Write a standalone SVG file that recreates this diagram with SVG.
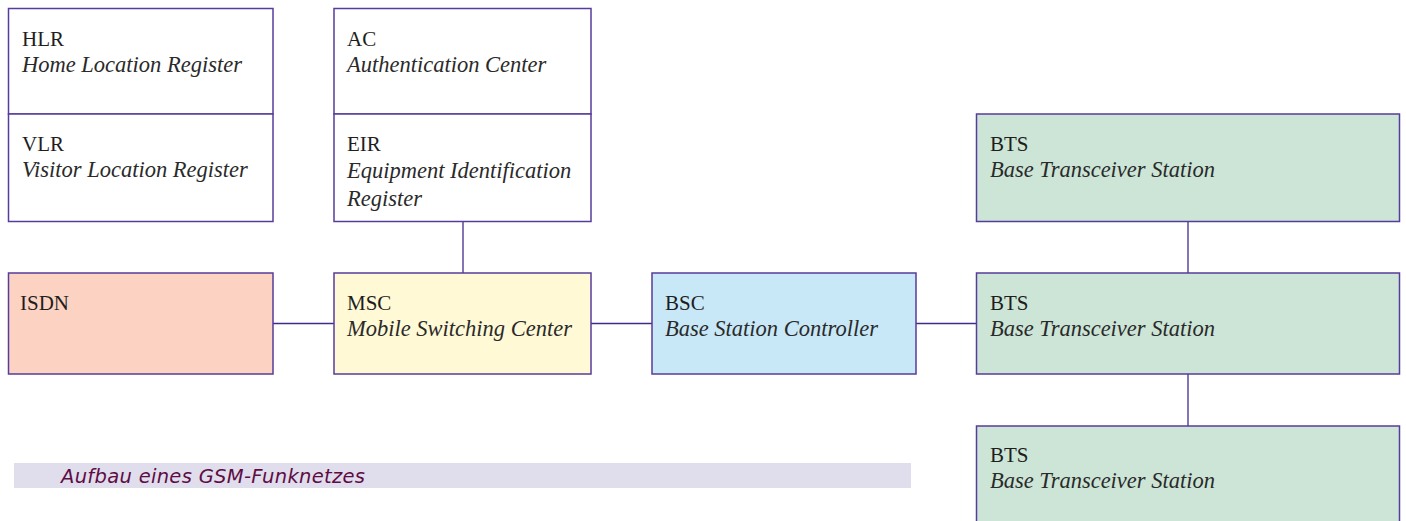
<svg xmlns="http://www.w3.org/2000/svg" width="1406" height="521" viewBox="0 0 1406 521">
<style>
.box{stroke:#563d9b;stroke-width:1.5}
.w{fill:#ffffff}
.isdn{fill:#fcd3c2}
.msc{fill:#fff9d6}
.bsc{fill:#c8e8f8}
.bts{fill:#cce5d6}
.ab{font-family:"Liberation Serif",serif;font-size:21px;fill:#1e1e1e}
.it{font-family:"Liberation Serif",serif;font-style:italic;font-size:22.5px;fill:#2a2a2a}
.conn line{stroke:#432b8c;stroke-width:1.3}
.cap{font-family:"DejaVu Sans",sans-serif;font-style:italic;font-size:19.5px;fill:#5e0c44}
</style>
<rect width="1406" height="521" fill="#ffffff"/>
<g id="connectors" class="conn">
<line x1="463" y1="222" x2="463" y2="273"/>
<line x1="273" y1="323.5" x2="334" y2="323.5"/>
<line x1="591" y1="323.5" x2="652" y2="323.5"/>
<line x1="916" y1="323.5" x2="976" y2="323.5"/>
<line x1="1188" y1="222" x2="1188" y2="273"/>
<line x1="1188" y1="374" x2="1188" y2="426"/>
</g>
<g id="hlr">
<rect class="box w" x="8.5" y="8.5" width="264.5" height="105.5"/>
<text class="ab" x="22" y="46">HLR</text>
<text class="it" x="22" y="72">Home Location Register</text>
</g>
<g id="vlr">
<rect class="box w" x="8.5" y="114" width="264.5" height="107.5"/>
<text class="ab" x="22" y="151">VLR</text>
<text class="it" x="22" y="177">Visitor Location Register</text>
</g>
<g id="ac">
<rect class="box w" x="334" y="8.5" width="257" height="105.5"/>
<text class="ab" x="347" y="46">AC</text>
<text class="it" x="347" y="72">Authentication Center</text>
</g>
<g id="eir">
<rect class="box w" x="334" y="114" width="257" height="107.5"/>
<text class="ab" x="347" y="151">EIR</text>
<text class="it" x="347" y="178">Equipment Identification</text>
<text class="it" x="347" y="206">Register</text>
</g>
<g id="isdn">
<rect class="box isdn" x="8.5" y="273" width="264.5" height="101"/>
<text class="ab" x="20" y="310">ISDN</text>
</g>
<g id="msc">
<rect class="box msc" x="334" y="273" width="257" height="101"/>
<text class="ab" x="347" y="310">MSC</text>
<text class="it" x="347" y="336">Mobile Switching Center</text>
</g>
<g id="bsc">
<rect class="box bsc" x="652" y="273" width="264" height="101"/>
<text class="ab" x="665" y="310">BSC</text>
<text class="it" x="665" y="336">Base Station Controller</text>
</g>
<g id="bts1">
<rect class="box bts" x="976.5" y="114" width="423" height="107.5"/>
<text class="ab" x="990" y="151">BTS</text>
<text class="it" x="990" y="177">Base Transceiver Station</text>
</g>
<g id="bts2">
<rect class="box bts" x="976.5" y="273" width="423" height="101"/>
<text class="ab" x="990" y="310">BTS</text>
<text class="it" x="990" y="336">Base Transceiver Station</text>
</g>
<g id="bts3">
<rect class="box bts" x="976.5" y="426" width="423" height="110"/>
<text class="ab" x="990" y="462">BTS</text>
<text class="it" x="990" y="488">Base Transceiver Station</text>
</g>
<g id="caption">
<rect x="14" y="463" width="897" height="25" fill="#e0ddec"/>
<text class="cap" x="61" y="483" textLength="304" lengthAdjust="spacing">Aufbau eines GSM-Funknetzes</text>
</g>
</svg>
